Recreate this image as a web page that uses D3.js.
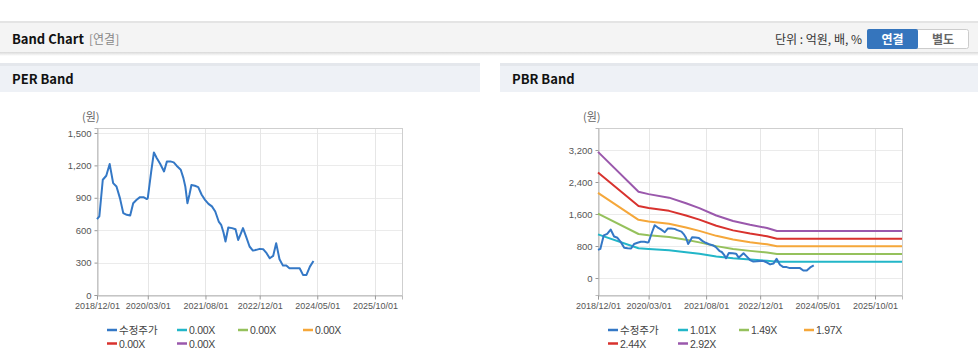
<!DOCTYPE html>
<html><head><meta charset="utf-8">
<script src="https://cdn.jsdelivr.net/npm/d3@7"></script>
<style>
html,body{margin:0;padding:0;background:#fff;overflow:hidden}
svg{display:block;font-family:"Liberation Sans","Noto Sans CJK KR",sans-serif}
</style></head><body>
<svg id="c" width="978" height="362"></svg>
<script>
// ---- data ----
const priceDates = ["2018-12-01","2018-12-22","2019-01-22","2019-02-22","2019-03-25","2019-04-25","2019-05-25","2019-06-25","2019-07-25","2019-08-25","2019-09-25","2019-10-22","2019-11-22","2019-12-22","2020-01-22","2020-02-22","2020-03-01","2020-04-01","2020-04-25","2020-05-20","2020-06-20","2020-07-25","2020-08-20","2020-09-20","2020-10-20","2020-11-15","2020-12-22","2021-01-15","2021-02-01","2021-02-20","2021-03-10","2021-03-28","2021-04-28","2021-05-28","2021-06-28","2021-07-28","2021-08-28","2021-09-28","2021-10-28","2021-11-28","2021-12-20","2022-01-10","2022-01-28","2022-02-22","2022-03-28","2022-04-28","2022-05-22","2022-06-10","2022-07-04","2022-08-01","2022-09-01","2022-10-01","2022-11-01","2022-12-01","2023-01-01","2023-02-01","2023-03-01","2023-04-01","2023-04-28","2023-05-28","2023-06-28","2023-07-28","2023-08-25","2023-11-25","2023-12-25","2024-01-25","2024-02-25","2024-03-28"];
const priceValues = [702,727,1067,1104,1212,1036,1005,897,758,742,736,850,881,906,906,888,897,1144,1320,1268,1215,1144,1237,1237,1228,1197,1160,1082,1005,850,928,1018,1011,999,928,881,844,820,773,680,650,578,495,625,619,609,510,557,619,541,449,411,418,427,424,387,340,362,480,331,272,272,247,247,186,186,263,315];

const bandDates = ["2018-12-01","2019-12-01","2020-03-01","2020-09-01","2021-02-01","2021-06-01","2021-11-01","2022-04-01","2022-09-01","2023-02-01","2023-05-01","2026-06-01"];
const pbr101 = [1091,745,725,695,646,604,540,493,460,432,407,407];
const pbr149 = [1609,1100,1070,1025,954,891,797,727,678,638,600,600];
const pbr197 = [2128,1454,1414,1355,1261,1178,1054,961,896,843,794,794];
const pbr244 = [2635,1801,1752,1679,1562,1459,1305,1191,1110,1044,983,983];
const pbr292 = [3154,2155,2097,2009,1869,1746,1562,1425,1329,1250,1177,1177];

const xTickLabels = ["2018/12/01","2020/03/01","2021/08/01","2022/12/01","2024/05/01","2025/10/01"];
const perTicks = [0,300,600,900,1200,1500];
const pbrTicks = [0,800,1600,2400,3200];
const perLegend = ["수정주가","0.00X","0.00X","0.00X","0.00X","0.00X"];
const pbrLegend = ["수정주가","1.01X","1.49X","1.97X","2.44X","2.92X"];
const colors = ["#3478c6","#22b6c8","#95c15c","#f5a73a","#d8322e","#9a58ac"];

// ---- page chrome ----
const svg = d3.select("#c");
const parse = d3.timeParse("%Y-%m-%d");
const parseT = d3.timeParse("%Y/%m/%d");
const KR = "'Noto Sans CJK KR','Liberation Sans',sans-serif";
const LAT = "'Liberation Sans',sans-serif";

svg.append("rect").attr("x",0).attr("y",21).attr("width",978).attr("height",2).attr("fill","#e4e4e4");
svg.append("rect").attr("x",0).attr("y",23).attr("width",978).attr("height",30).attr("fill","#f4f4f4");
const sh = svg.append("defs").append("linearGradient").attr("id","sh").attr("x1",0).attr("x2",0).attr("y1",0).attr("y2",1);
sh.append("stop").attr("offset","0").attr("stop-color","#d8d8d8");
sh.append("stop").attr("offset","1").attr("stop-color","#ffffff");
svg.append("rect").attr("x",0).attr("y",52).attr("width",978).attr("height",4).attr("fill","url(#sh)");
svg.append("text").attr("x",12).attr("y",44).attr("font-size",13).attr("font-weight","bold").attr("fill","#111")
  .attr("font-family",KR).text("Band Chart");
svg.append("text").attr("x",89).attr("y",44).attr("font-size",12).attr("fill","#888")
  .attr("font-family",KR).text("[연결]");
svg.append("text").attr("x",862).attr("y",44).attr("font-size",12).attr("fill","#333").attr("text-anchor","end")
  .attr("font-family",KR).text("단위 : 억원, 배, %");
svg.append("rect").attr("x",867.5).attr("y",29.5).attr("width",101).attr("height",19).attr("rx",2).attr("fill","#fff").attr("stroke","#ccc");
svg.append("rect").attr("x",867).attr("y",29).attr("width",51).attr("height",20).attr("rx",2).attr("fill","#3575bd");
svg.append("text").attr("x",892.5).attr("y",43.5).attr("font-size",12).attr("font-weight","bold").attr("fill","#fff").attr("text-anchor","middle")
  .attr("font-family",KR).text("연결");
svg.append("text").attr("x",943).attr("y",43.5).attr("font-size",12).attr("font-weight","bold").attr("fill","#666").attr("text-anchor","middle")
  .attr("font-family",KR).text("별도");

function panel(x0, w, title){
  svg.append("rect").attr("x",x0).attr("y",63).attr("width",w).attr("height",3).attr("fill","#e4e7ec");
  svg.append("rect").attr("x",x0).attr("y",66).attr("width",w).attr("height",26).attr("fill","#eef1f6");
  svg.append("text").attr("x",x0+12).attr("y",84).attr("font-size",13).attr("font-weight","bold").attr("fill","#111")
    .attr("font-family",KR).text(title);
}
panel(0,480,"PER Band");
panel(500,478,"PBR Band");

function chart(opt){
  const {left,right,top,bottom,yDomain,yTicks,series,legend} = opt;
  const g = svg.append("g");
  const x = d3.scaleTime().domain([parse("2018-12-01"), parse("2026-06-01")]).range([left,right]);
  const y = d3.scaleLinear().domain(yDomain).range([bottom,top]);
  const xt = xTickLabels.map(parseT);
  // grid
  g.append("g").selectAll("line").data(yTicks).join("line")
    .attr("x1",left).attr("x2",right).attr("y1",d=>Math.round(y(d))+0.5).attr("y2",d=>Math.round(y(d))+0.5)
    .attr("stroke","#ebebeb");
  g.append("g").selectAll("line").data(xt).join("line")
    .attr("y1",top).attr("y2",bottom).attr("x1",d=>Math.round(x(d))+0.5).attr("x2",d=>Math.round(x(d))+0.5)
    .attr("stroke","#e6e6e6");
  g.append("rect").attr("x",left+0.5).attr("y",top+0.5).attr("width",right-left).attr("height",bottom-top)
    .attr("fill","none").attr("stroke","#cfcfcf");
  // axes
  const ya = d3.axisLeft(y).tickValues(yTicks).tickFormat(d3.format(",")).tickSize(3).tickPadding(3);
  const yg = g.append("g").attr("transform",`translate(${left+0.5},0)`).call(ya);
  yg.select(".domain").attr("stroke","#bbb");
  yg.selectAll(".tick line").attr("stroke","#999");
  yg.selectAll("text").attr("fill","#555").attr("font-size",9.5).attr("font-family",LAT);
  const xa = d3.axisBottom(x).tickValues(xt).tickFormat(d3.timeFormat("%Y/%m/%d")).tickSize(4).tickPadding(3);
  const xg = g.append("g").attr("transform",`translate(0,${bottom+0.5})`).call(xa);
  xg.select(".domain").attr("stroke","#bbb");
  xg.selectAll(".tick line").attr("stroke","#999");
  xg.selectAll("text").attr("fill","#555").attr("font-size",9).attr("font-family",LAT);
  g.append("text").attr("x",left-15).attr("y",top-7).attr("font-size",11).attr("fill","#666")
    .attr("font-family",KR).text("(원)");
  // lines
  const line = d3.line().x(d=>x(d[0])).y(d=>y(d[1]));
  series.slice().reverse().forEach(s=>{
    const pts = s.dates.map((d,i)=>[parse(d), s.values[i]]);
    g.append("path").attr("d",line(pts)).attr("fill","none").attr("stroke",s.color)
      .attr("stroke-width",2).attr("stroke-linejoin","round");
  });
  // legend
  const lx = [left+10, left+80, left+141, left+206];
  legend.forEach((t,i)=>{
    const row = Math.floor(i/4), col = i%4;
    const xx = lx[col], yy = 330 + row*13.5;
    g.append("line").attr("x1",xx).attr("x2",xx+10).attr("y1",yy).attr("y2",yy)
      .attr("stroke",colors[i]).attr("stroke-width",2.5);
    const isKr = /[가-힣]/.test(t);
    g.append("text").attr("x",xx+12).attr("y",yy+4).attr("font-size",isKr?10.5:10.5).attr("fill","#444")
      .attr("letter-spacing",isKr?0:-0.3)
      .attr("font-family",isKr?KR:LAT).text(t);
  });
}

chart({left:97,right:402,top:128,bottom:295,yDomain:[0,1546],yTicks:perTicks,
  series:[{dates:priceDates,values:priceValues,color:colors[0]}],legend:perLegend});

chart({left:598,right:902,top:128,bottom:295,yDomain:[-425,3750],yTicks:pbrTicks,
  series:[
    {dates:priceDates,values:priceValues,color:colors[0]},
    {dates:bandDates,values:pbr101,color:colors[1]},
    {dates:bandDates,values:pbr149,color:colors[2]},
    {dates:bandDates,values:pbr197,color:colors[3]},
    {dates:bandDates,values:pbr244,color:colors[4]},
    {dates:bandDates,values:pbr292,color:colors[5]}
  ],legend:pbrLegend});
</script>
</body></html>
